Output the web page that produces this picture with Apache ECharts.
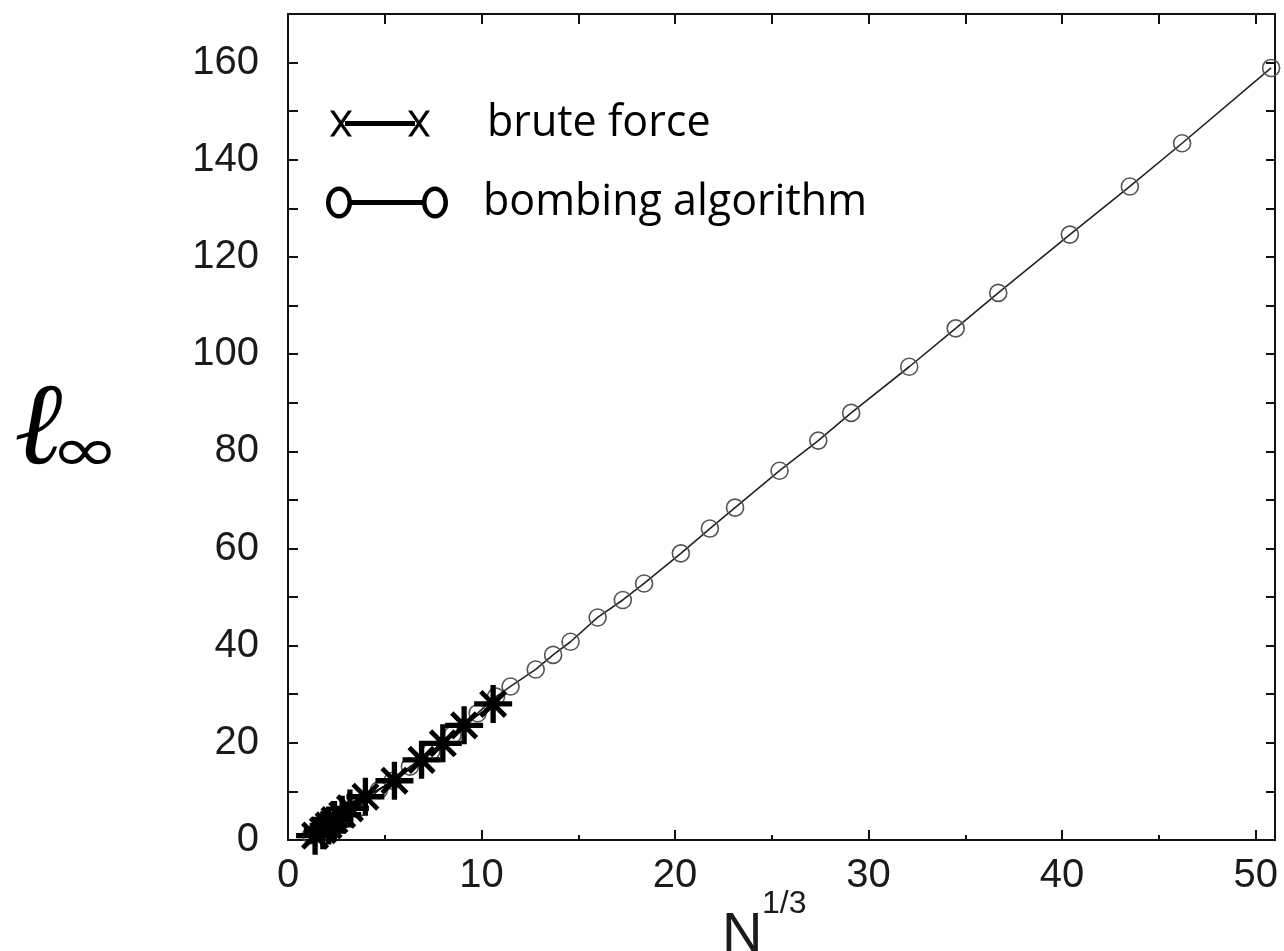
<!DOCTYPE html>
<html>
<head>
<meta charset="utf-8">
<script src="https://cdn.jsdelivr.net/npm/echarts@6/dist/echarts.min.js"></script>
<style>
html,body{margin:0;padding:0;background:#fff;}
#c{width:1284px;height:951px;}
</style>
</head>
<body>
<div id="c"></div>
<script>
// ---- data ----
const bombingX = [1.2, 1.6, 2.2, 2.8, 3.6, 4.7, 5.4, 6.3, 7.4, 8.5, 9.8, 10.75, 11.5, 12.8, 13.7, 14.6, 16.0, 17.3, 18.4, 20.3, 21.8, 23.1, 25.4, 27.4, 29.1, 32.1, 34.5, 36.7, 40.4, 43.5, 46.2, 50.8];
const bombingY = [1.0, 1.8, 2.6, 4.4, 6.5, 10.3, 12.2, 15.1, 18.2, 21.6, 26.1, 29.5, 31.6, 35.1, 38.1, 40.8, 45.8, 49.4, 52.8, 59.0, 64.1, 68.4, 76.0, 82.2, 87.9, 97.4, 105.3, 112.6, 124.6, 134.5, 143.4, 158.9];
const bruteX = [1.4, 1.8, 2.1, 2.4, 2.8, 3.2, 4.0, 5.5, 6.9, 8.0, 9.1, 10.6];
const bruteY = [0.9, 2.0, 3.0, 4.1, 5.2, 6.5, 8.9, 12.2, 16.5, 19.9, 23.6, 28.0];
const seriesNames = ['brute force', 'bombing algorithm'];
const xRange = [0, 51];
const yRange = [0, 170];

const pair = (xs, ys) => xs.map((x, i) => [x, ys[i]]);

const asterisk = 'path://M0 17.2L40 17.2L40 22.8L0 22.8Z' +
  'M17.2 0L22.8 0L22.8 40L17.2 40Z' +
  'M5.2 8.8L8.8 5.2L34.8 31.2L31.2 34.8Z' +
  'M31.2 5.2L34.8 8.8L8.8 34.8L5.2 31.2Z';

// legend icons
const bruteIcon = 'path://M0 0L4 0L22 26L18 26Z M18 0L22 0L4 26L0 26Z' +
  'M78 0L82 0L100 26L96 26Z M96 0L100 0L82 26L78 26Z' +
  'M15 10.5L85 10.5L85 15.5L15 15.5Z';
function ring(cx, cy, rx, ry, w) {
  const o = `M${cx} ${cy-ry}A${rx} ${ry} 0 1 1 ${cx} ${cy+ry}A${rx} ${ry} 0 1 1 ${cx} ${cy-ry}Z`;
  const i = `M${cx} ${cy-ry+w}A${rx-w} ${ry-w} 0 1 0 ${cx} ${cy+ry-w}A${rx-w} ${ry-w} 0 1 0 ${cx} ${cy-ry+w}Z`;
  return o + i;
}
const bombIcon = 'path://' + ring(13, 16, 13, 16, 4.5) + ring(109, 16, 13, 16, 4.5) +
  'M24 13.5L98 13.5L98 18.5L24 18.5Z';

const labelFont = { fontFamily: 'Liberation Sans', fontSize: 40, color: '#1a1a1a' };
const axisLine = { show: true, onZero: false, lineStyle: { color: '#111', width: 2 } };

const chart = echarts.init(document.getElementById('c'), null, { renderer: 'canvas' });
chart.setOption({
  animation: false,
  backgroundColor: '#fff',
  grid: { left: 288, right: 9, top: 14, bottom: 111, containLabel: false },
  xAxis: [
    {
      type: 'value', min: xRange[0], max: xRange[1], interval: 10, position: 'bottom',
      axisLine: axisLine,
      axisTick: { show: true, inside: true, length: 10, lineStyle: { color: '#111', width: 2 } },
      minorTick: { show: true, splitNumber: 2, length: 5, lineStyle: { color: '#111', width: 2 } },
      splitLine: { show: false }, minorSplitLine: { show: false },
      axisLabel: Object.assign({ margin: 16, showMaxLabel: false, formatter: v => (v % 10 === 0 ? String(v) : '') }, labelFont)
    },
    {
      type: 'value', min: xRange[0], max: xRange[1], interval: 5, position: 'top',
      axisLine: axisLine,
      axisTick: { show: true, inside: true, length: 10, lineStyle: { color: '#111', width: 2 } },
      splitLine: { show: false },
      axisLabel: { show: false }
    }
  ],
  yAxis: [
    {
      type: 'value', min: yRange[0], max: yRange[1], interval: 10, position: 'left',
      axisLine: axisLine,
      axisTick: { show: true, inside: true, length: 10, lineStyle: { color: '#111', width: 2 } },
      splitLine: { show: false },
      axisLabel: Object.assign({ margin: 29, formatter: v => (v % 20 === 0 && v <= 160 ? String(v) : '') }, labelFont)
    },
    {
      type: 'value', min: yRange[0], max: yRange[1], interval: 10, position: 'right',
      axisLine: axisLine,
      axisTick: { show: true, inside: true, length: 9, lineStyle: { color: '#111', width: 2 } },
      splitLine: { show: false },
      axisLabel: { show: false }
    }
  ],
  legend: [
    {
      data: [{ name: seriesNames[0], icon: bruteIcon }],
      left: 330, top: 102, itemWidth: 100, itemHeight: 26, padding: 0,
      selectedMode: false,
      itemStyle: { color: '#000', borderWidth: 0 },
      textStyle: { fontFamily: 'Open Sans', fontSize: 43, color: '#000', padding: [0, 0, 0, 52] }
    },
    {
      data: [{ name: seriesNames[1], icon: bombIcon }],
      left: 326, top: 181, itemWidth: 122, itemHeight: 32, padding: 0,
      selectedMode: false,
      itemStyle: { color: '#000', borderWidth: 0 },
      textStyle: { fontFamily: 'Open Sans', fontSize: 43, color: '#000', padding: [0, 0, 0, 30] }
    }
  ],
  graphic: [
    { type: 'text', left: 16, top: 375, style: { text: 'ℓ', font: 'italic bold 116px "DejaVu Serif"', fill: '#000' } },
    { type: 'text', left: 50, top: 424, scaleX: 1.35, style: { text: '∞', font: '62px "DejaVu Sans"', fill: '#000' } },
    { type: 'text', left: 722, top: 908, style: { text: 'N', font: '56px "Liberation Sans"', fill: '#1a1a1a' } },
    { type: 'text', left: 762, top: 888, style: { text: '1/3', font: '32px "Liberation Sans"', fill: '#1a1a1a' } }
  ],
  series: [
    {
      name: seriesNames[1], type: 'line', xAxisIndex: 0, yAxisIndex: 0,
      data: pair(bombingX, bombingY),
      symbol: 'circle', symbolSize: 17,
      lineStyle: { color: '#222', width: 1.6 },
      itemStyle: { color: 'rgba(0,0,0,0)', borderColor: '#555', borderWidth: 1.6 },
      z: 2
    },
    {
      name: seriesNames[0], type: 'line', xAxisIndex: 0, yAxisIndex: 0,
      data: pair(bruteX, bruteY),
      symbol: asterisk, symbolSize: 38,
      lineStyle: { color: '#000', width: 1.6 },
      itemStyle: { color: '#000' },
      z: 3
    }
  ]
});
</script>
</body>
</html>
